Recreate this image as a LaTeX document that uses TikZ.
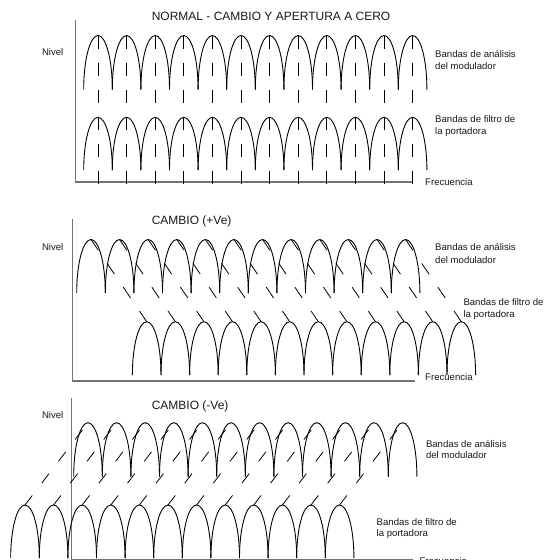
\documentclass[tikz,border=0pt]{standalone}
\usepackage{fontspec}
\setmainfont{Liberation Sans}
\newcommand\archat[3]{% x of peak, y of peak, y of feet
  \draw[archline] ({#1-14.3},#3) .. controls ({#1-14.3},{#3-0.56*(#3-#2)}) and ({#1-7.9},#2) .. (#1,#2)
    .. controls ({#1+7.9},#2) and ({#1+14.3},{#3-0.56*(#3-#2)}) .. ({#1+14.3},#3);}
\begin{document}
\begin{tikzpicture}[x=1pt,y=-1pt,
  axisline/.style={draw=black!55, line width=1.1pt},
  archline/.style={draw=black, line width=0.9pt},
  vdash/.style={draw=black, line width=0.8pt, dash pattern=on 13pt off 14pt},
  ddashA/.style={draw=black, line width=0.8pt, dash pattern=on 13pt off 15.8pt},
  ddashB/.style={draw=black, line width=0.8pt, dash pattern=on 12pt off 15.5pt},
  lbl/.style={inner sep=0pt, anchor=base west, font=\fontsize{9.6}{11}\selectfont, text=black!90},
  ttl/.style={inner sep=0pt, anchor=base west, font=\fontsize{12}{14}\selectfont, text=black!90},
]
\useasboundingbox (0,0) rectangle (546,560);
\fill[white] (0,0) rectangle (546,560);

% ---------- panel 1 ----------
\draw[axisline] (75.5,20) -- (75.5,182) -- (413,182);
\foreach \i in {0,...,11}{
  \pgfmathsetmacro\px{98+28.6*\i}
  \archat{\px}{35.5}{89.5}
  \archat{\px}{117.3}{170}
  \draw[vdash] (\px,35.5) -- (\px,184.5);
}
\node[ttl] (t1) at (151.6,20.3) {NORMAL - CAMBIO Y APERTURA A CERO};
\node[lbl] (n1) at (41.8,55.5) {Nivel};
\node[lbl] (a1) at (435,57.8) {Bandas de análisis};
\node[lbl] (a1b) at (435,69.2) {del modulador};
\node[lbl] (f1) at (435,122.8) {Bandas de filtro de};
\node[lbl] (f1b) at (435,134) {la portadora};
\node[lbl] (x1) at (425,185.4) {Frecuencia};

% ---------- panel 2 ----------
\draw[axisline] (72.5,218.5) -- (72.5,381) -- (415,381);
\foreach \i in {0,...,11}{
  \pgfmathsetmacro\px{91+28.6*\i}
  \pgfmathsetmacro\qx{146.7+28.6*\i}
  \archat{\px}{239.5}{293}
  \archat{\qx}{321.7}{375}
  \draw[ddashA] (\px,239.5) -- (\qx,321.7);
}
\node[ttl] (t2) at (151.6,224.3) {CAMBIO (+Ve)};
\node[lbl] (n2) at (41.8,250.5) {Nivel};
\node[lbl] (a2) at (435,250.2) {Bandas de análisis};
\node[lbl] (a2b) at (435,263.3) {del modulador};
\node[lbl] (f2) at (463.3,305.2) {Bandas de filtro de};
\node[lbl] (f2b) at (463.3,317.6) {la portadora};
\node[lbl] (x2) at (425,380.2) {Frecuencia};

% ---------- panel 3 ----------
\draw[axisline] (71.7,398.4) -- (71.7,562);
\draw[axisline] (71.7,559.5) -- (413,559.5);
\foreach \i in {0,...,11}{
  \pgfmathsetmacro\px{88+28.6*\i}
  \pgfmathsetmacro\qx{25+28.6*\i}
  \archat{\px}{422.7}{476.5}
  \archat{\qx}{505}{558}
  \draw[ddashB] (\qx,505) -- (\px,422.7);
}
\node[ttl] (t3) at (151.6,409.3) {CAMBIO (-Ve)};
\node[lbl] (n3) at (41.8,418.7) {Nivel};
\node[lbl] (a3) at (425.8,447.2) {Bandas de análisis};
\node[lbl] (a3b) at (425.8,458.9) {del modulador};
\node[lbl] (f3) at (376.5,525.5) {Bandas de filtro de};
\node[lbl] (f3b) at (376.5,536.9) {la portadora};
\node[lbl] (x3) at (419.3,564) {Frecuencia};
\end{tikzpicture}
\end{document}
